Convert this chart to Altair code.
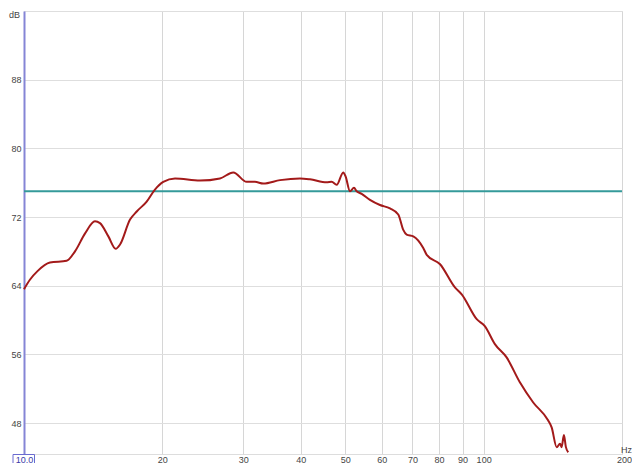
import altair as alt
import pandas as pd

freq = [10.0, 10.3, 10.7, 11.39, 12.38, 12.91, 13.58, 14.27, 14.63, 15.26, 15.83, 16.18,
        17.01, 17.59, 18.49, 19.27, 20.09, 21.31, 24.15, 26.69, 28.53, 30.51, 31.8, 33.16,
        36.06, 39.85, 41.9, 45.55, 46.71, 47.89, 49.5, 50.1, 51.19, 52.23, 52.94, 54.28,
        56.58, 59.5, 62.55, 65.2, 66.86, 68.0, 70.3, 73.9, 75.2, 80.4, 86.6, 89.6, 96.6,
        100.6, 105.8, 112.2, 119.9, 128.2, 138.2, 140.6, 144.2, 146.6, 147.8, 149.5, 151.0,
        152.8]
level = [63.6, 64.7, 65.7, 66.7, 66.9, 68.0, 70.1, 71.5, 71.3, 69.75, 68.3, 68.8,
         71.7, 72.65, 73.8, 75.2, 76.1, 76.5, 76.25, 76.5, 77.2, 76.1, 76.1, 75.9,
         76.3, 76.5, 76.4, 76.05, 76.1, 75.75, 77.2, 76.7, 75.0, 75.4, 75.0, 74.7,
         74.0, 73.4, 73.0, 72.3, 70.5, 69.95, 69.75, 68.4, 67.6, 66.5, 63.8, 63.0, 60.1,
         59.3, 57.2, 55.65, 52.75, 50.4, 48.3, 47.5, 45.2, 45.6, 45.2, 46.6, 45.2,
         44.6]
target_level = [75]
x_ticks = [10, 20, 30, 40, 50, 60, 70, 80, 90, 100, 200]
y_ticks = [48, 56, 64, 72, 80, 88, 96]

FONT = "Liberation Sans Narrow, Liberation Sans, sans-serif"
W, H = 598, 443

df = pd.DataFrame({"f": freq, "db": level})
tgt = pd.DataFrame({"db": target_level})

xscale = alt.Scale(type="log", domain=[10, 200], nice=False)
yscale = alt.Scale(domain=[44.4, 96], nice=False, zero=False)

xaxis = alt.Axis(
    values=x_ticks, format="d", grid=True, gridColor="#d6d6d6", domain=False,
    ticks=False, labelFont=FONT, labelFontSize=9, labelPadding=1,
    labelBaseline="top",
    labelColor={"expr": "datum.value == 10 ? '#3a3aa8' : '#444444'"},
    labelOffset={"expr": "datum.value == 200 ? 2 : 0"},
    labelExpr="datum.value == 10 ? '10.0' : datum.label",
    labelFlush=False, labelOverlap=False,
    title="Hz", titleFont=FONT, titleFontSize=9, titleFontWeight="normal",
    titleColor="#444444", titleX=W + 4, titleY=-5, titleAlign="center",
    titleBaseline="middle", titleAnchor="start",
)
yaxis = alt.Axis(
    values=y_ticks, grid=True, gridColor="#dedede", domain=True,
    domainColor="#8585d6", domainWidth=2, ticks=False, labelFont=FONT,
    labelFontSize=9, labelColor="#444444", labelPadding=3,
    labelExpr="datum.value == 96 ? '' : datum.label", labelFlush=False,
    title="dB", titleFont=FONT, titleFontSize=9, titleFontWeight="normal",
    titleColor="#444444", titleAngle=0, titleX=-10, titleY=3,
    titleAlign="center", titleBaseline="middle",
)

line = alt.Chart(df).mark_line(color="#a31a1a", strokeWidth=2, interpolate="monotone").encode(
    x=alt.X("f:Q", scale=xscale, axis=xaxis),
    y=alt.Y("db:Q", scale=yscale, axis=yaxis),
)

rule = alt.Chart(tgt).mark_rule(color="#359a9a", strokeWidth=2).encode(
    y=alt.Y("db:Q", scale=yscale),
)

box = alt.Chart(pd.DataFrame({"a": [0]})).mark_rect(
    fill=None, stroke="#6a6ad0", strokeWidth=1
).encode(
    x=alt.value(-11), x2=alt.value(10.5), y=alt.value(H + 0.5), y2=alt.value(H + 9.5)
)

chart = alt.layer(rule, line, box).properties(
    width=W, height=H,
    autosize=alt.AutoSizeParams(type="none"),
    padding={"left": 16, "top": 3, "right": 10, "bottom": 455 - 3 - H},
).configure_view(stroke="#d9d9d9").configure(background="white")

chart.save("out.html", embed_options={"renderer": "svg", "actions": False})
